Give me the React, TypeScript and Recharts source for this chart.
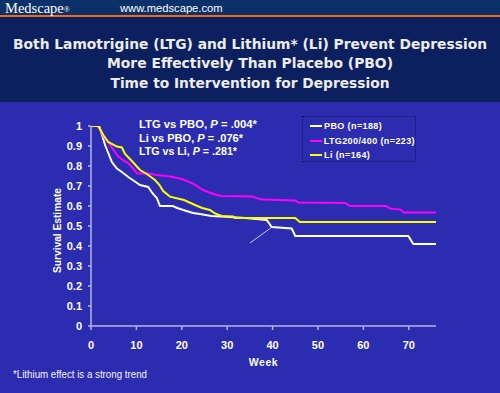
import { LineChart, Line, XAxis, YAxis, Legend, ReferenceLine, Label } from 'recharts';

// Kaplan-Meier curves: [week, survival estimate]
const PBO: [number, number][] = [
  [0, 1], [1.8, 1], [2.3, 0.965], [3.1, 0.905], [3.8, 0.865], [4.6, 0.82], [5.7, 0.787],
  [6.8, 0.77], [8.2, 0.745], [9.5, 0.725], [10.8, 0.705], [12.6, 0.695], [13.5, 0.665],
  [14.5, 0.64], [15.2, 0.6], [18, 0.6], [19, 0.59], [21, 0.575], [22.5, 0.565], [24, 0.56],
  [26.5, 0.55], [30.6, 0.545], [34, 0.54], [38.7, 0.53], [39.8, 0.495], [44.2, 0.488],
  [45, 0.45], [69.9, 0.45], [71, 0.41], [76, 0.41],
];

const LTG: [number, number][] = [
  [0, 1], [1.3, 1], [2, 0.985], [2.7, 0.95], [4.2, 0.905], [5.9, 0.85], [7, 0.83],
  [8.2, 0.815], [9.2, 0.79], [10.2, 0.762], [12.6, 0.762], [14.5, 0.755], [17.4, 0.747],
  [20, 0.735], [22.5, 0.712], [24.7, 0.68], [25.8, 0.67], [27.7, 0.655], [28.8, 0.65],
  [35.4, 0.647], [37.6, 0.632], [45, 0.627], [45.7, 0.617], [56, 0.615], [57, 0.6],
  [65, 0.6], [65.9, 0.587], [68.2, 0.582], [68.9, 0.567], [76, 0.567],
];

const LI: [number, number][] = [
  [0, 1], [1.6, 1], [2.7, 0.955], [3.8, 0.92], [5.7, 0.897], [6.8, 0.893], [7.5, 0.86],
  [9, 0.825], [10.8, 0.78], [12.3, 0.76], [14.1, 0.73], [15.1, 0.705], [15.9, 0.675],
  [17.4, 0.647], [20.5, 0.63], [22.9, 0.605], [24.5, 0.59], [26.2, 0.58], [27.3, 0.563],
  [28.8, 0.55], [31.3, 0.547], [31.7, 0.54], [45, 0.54], [46, 0.52], [76, 0.52],
];

const SERIES = [
  { name: 'PBO (n=188)', color: '#ffffff', points: PBO },
  { name: 'LTG200/400 (n=223)', color: '#ff00ff', points: LTG },
  { name: 'Li (n=164)', color: '#ffff00', points: LI },
];
const LEGEND_ORDER = SERIES.map((s) => s.name);

const WEEK_TICKS = [0, 10, 20, 30, 40, 50, 60, 70];
const SURVIVAL_TICKS = [0, 0.1, 0.2, 0.3, 0.4, 0.5, 0.6, 0.7, 0.8, 0.9, 1];

const TITLE_LINES = [
  'Both Lamotrigine (LTG) and Lithium* (Li) Prevent Depression',
  'More Effectively Than Placebo (PBO)',
  'Time to Intervention for Depression',
];
const TITLE_WIDTHS = [474, 286, 279];

const COMPARISONS = [
  { label: 'LTG vs PBO, ', p: '.004*', width: 118 },
  { label: 'Li vs PBO, ', p: '.076*', width: 104 },
  { label: 'LTG vs Li, ', p: '.281*', width: 98 },
];

// pointer drawn on the slide towards the PBO curve
const POINTER = [
  { x: 35, y: 0.415 },
  { x: 39.9, y: 0.495 },
];

const BG = '#2c2cb0';
const AXIS = '#b4b4e0';
const FONT = '"Liberation Sans", Arial, sans-serif';

const tickStyle = { fill: '#ffffff', fontSize: 11, fontWeight: 700, fontFamily: FONT };

function LegendBox({ payload }: any) {
  const items = [...(payload || [])].sort(
    (a: any, b: any) => LEGEND_ORDER.indexOf(a.value) - LEGEND_ORDER.indexOf(b.value)
  );
  return (
    <div
      style={{
        width: 112,
        height: 42,
        border: '1px dotted #101848',
        paddingTop: 2,
        boxSizing: 'content-box',
      }}
    >
      {items.map((item: any) => (
        <div
          key={item.value}
          style={{ display: 'flex', alignItems: 'center', height: 14.5 }}
        >
          <span
            style={{
              display: 'inline-block',
              width: 12,
              height: 2,
              marginLeft: 7,
              marginRight: 2,
              background: item.color,
            }}
          />
          <span
            style={{
              color: '#ffffff',
              fontSize: 9,
              fontWeight: 700,
              letterSpacing: 0.4,
              fontFamily: FONT,
              whiteSpace: 'nowrap',
            }}
          >
            {item.value}
          </span>
        </div>
      ))}
    </div>
  );
}

export default function App() {
  return (
    <div
      style={{
        position: 'absolute',
        left: 0,
        top: 0,
        width: 500,
        height: 393,
        background: BG,
        overflow: 'hidden',
        fontFamily: FONT,
      }}
    >
      <svg width={500} height={102} style={{ position: 'absolute', left: 0, top: 0 }}>
        <rect x={0} y={0} width={500} height={16} fill='#0c3068' />
        <rect x={0} y={15} width={500} height={2} fill='#f0691c' />
        <rect x={0} y={17} width={500} height={85} fill='#0c1f5e' />
        <text x={5} y={13} fill='#ffffff' fontFamily='"Liberation Serif", serif' fontSize={14.5}>
          Medscape
          <tspan fontSize={8} dy={-1}>®</tspan>
        </text>
        <text x={120} y={12} fill='#ffffff' fontFamily={FONT} fontSize={11.2}>
          www.medscape.com
        </text>
        {TITLE_LINES.map((line, i) => (
          <text
            key={line}
            x={250}
            y={48.5 + i * 19.5}
            textAnchor='middle'
            fill='#ececec'
            fontFamily='"DejaVu Sans Condensed", "DejaVu Sans", sans-serif'
            fontWeight={700}
            fontSize={13.5}
            textLength={TITLE_WIDTHS[i]}
            lengthAdjust='spacingAndGlyphs'
          >
            {line}
          </text>
        ))}
      </svg>

      <div style={{ position: 'absolute', left: 0, top: 102 }}>
        <LineChart
          width={500}
          height={291}
          margin={{ top: 24, right: 64, bottom: 37, left: 51 }}
        >
          <XAxis
            dataKey='week'
            type='number'
            domain={[0, 76]}
            ticks={WEEK_TICKS}
            allowDataOverflow
            height={30}
            stroke={AXIS}
            strokeWidth={1.5}
            tickSize={4}
            tickMargin={11}
            tick={tickStyle}
          >
            <Label
              content={({ viewBox }: any) => (
                <text
                  x={viewBox.x + viewBox.width / 2}
                  y={263.7}
                  textAnchor='middle'
                  fill='#ffffff'
                  fontFamily={FONT}
                  fontWeight={700}
                  fontSize={10.5}
                  letterSpacing={0.6}
                >
                  Week
                </text>
              )}
            />
          </XAxis>
          <YAxis
            type='number'
            domain={[0, 1]}
            ticks={SURVIVAL_TICKS}
            allowDataOverflow
            width={40}
            stroke={AXIS}
            strokeWidth={1.5}
            tickSize={3}
            tickMargin={6}
            tick={tickStyle}
            tickFormatter={(v: number) => String(Math.round(v * 10) / 10)}
          >
            <Label
              content={() => (
                <text
                  x={61}
                  y={128.5}
                  transform='rotate(-90 61 128.5)'
                  textAnchor='middle'
                  fill='#ffffff'
                  fontFamily={FONT}
                  fontWeight={700}
                  fontSize={10.5}
                  textLength={85}
                  lengthAdjust='spacingAndGlyphs'
                >
                  Survival Estimate
                </text>
              )}
            />
          </YAxis>
          <ReferenceLine segment={POINTER} stroke='#c8c8e8' strokeWidth={1} ifOverflow='visible' />
          {SERIES.map((s) => (
            <Line
              key={s.name}
              name={s.name}
              data={s.points.map(([week, survival]) => ({ week, survival }))}
              dataKey='survival'
              type='linear'
              stroke={s.color}
              strokeWidth={2}
              dot={false}
              activeDot={false}
              isAnimationActive={false}
            />
          ))}
          <Legend
            layout='vertical'
            align='center'
            verticalAlign='middle'
            content={<LegendBox />}
            wrapperStyle={{ left: 302, top: 14, width: 114 }}
          />
        </LineChart>
      </div>

      <svg width={500} height={393} style={{ position: 'absolute', left: 0, top: 0, pointerEvents: 'none' }}>
        {COMPARISONS.map((c, i) => (
          <text
            key={c.label}
            x={139}
            y={128 + i * 13.5}
            fill='#ffffff'
            fontFamily={FONT}
            fontWeight={700}
            fontSize={10.5}
            textLength={c.width}
            lengthAdjust='spacingAndGlyphs'
          >
            {c.label}
            <tspan fontStyle='italic'>P</tspan>
            {' = ' + c.p}
          </text>
        ))}
        <text
          x={13}
          y={378.3}
          fill='#f4f4f4'
          fontFamily={FONT}
          fontSize={10}
          textLength={134}
          lengthAdjust='spacingAndGlyphs'
        >
          *Lithium effect is a strong trend
        </text>
      </svg>
    </div>
  );
}
